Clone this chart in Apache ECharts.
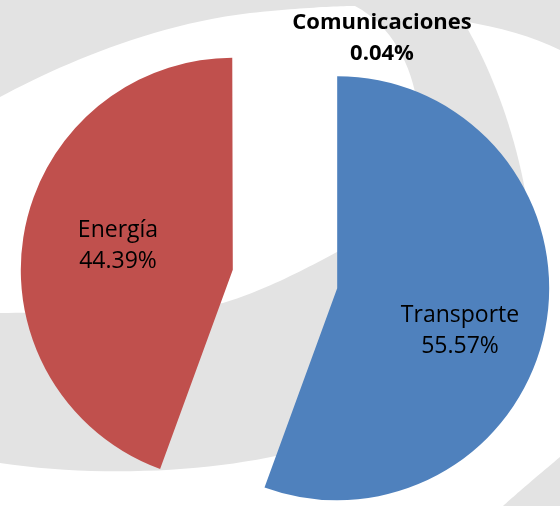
<!DOCTYPE html>
<html>
<head>
<meta charset="utf-8">
<script src="https://cdn.jsdelivr.net/npm/echarts@6/dist/echarts.min.js"></script>
<style>
  html, body { margin: 0; padding: 0; background: #fff; }
  #chart { width: 560px; height: 506px; }
</style>
</head>
<body>
<div id="chart"></div>
<script>
// 数据
var categories = ['Transporte', 'Energía', 'Comunicaciones'];
var shares = [55.57, 44.39, 0.04];
var colors = ['#4f81bd', '#c0504d', '#9bbb59'];

// 标签中心位置（像素）
var labelPos = [[460, 331], [118, 246], [382, 38]];

// 背景水印：把三次贝塞尔曲线采样成多边形
function pathPoints(start, segs) {
    var pts = [start];
    var p0 = start;
    segs.forEach(function (s) {
        if (s.length === 1) {
            pts.push(s[0]);
            p0 = s[0];
            return;
        }
        var p1 = s[0], p2 = s[1], p3 = s[2];
        for (var i = 1; i <= 24; i++) {
            var t = i / 24, u = 1 - t;
            pts.push([
                u * u * u * p0[0] + 3 * u * u * t * p1[0] + 3 * u * t * t * p2[0] + t * t * t * p3[0],
                u * u * u * p0[1] + 3 * u * u * t * p1[1] + 3 * u * t * t * p2[1] + t * t * t * p3[1]
            ]);
        }
        p0 = p3;
    });
    return pts;
}

var bigWhite = pathPoints([0, 97], [
    [[60, 65], [150, 25], [250, 13]],
    [[330, 5], [480, 10], [560, 50]],
    [[560, 457]],
    [[535, 478], [515, 495], [503, 506]],
    [[0, 506]]
]);
var grayRing = pathPoints([0, 463], [
    [[100, 478], [220, 472], [300, 450]],
    [[430, 410], [545, 310], [525, 190]],
    [[510, 110], [480, 45], [450, 0]],
    [[0, 0]]
]);
var innerWhite = pathPoints([0, 97], [
    [[60, 65], [150, 25], [250, 13]],
    [[300, 8], [335, 6], [355, 6]],
    [[410, 35], [428, 110], [415, 165]],
    [[405, 215], [370, 235], [337, 252]],
    [[300, 272], [260, 292], [223, 303]],
    [[150, 315], [60, 312], [0, 313]]
]);

// 数据标签（类别 + 百分比）
var labelElements = categories.map(function (name, i) {
    var small = i === 2;
    return {
        type: 'text',
        silent: true,
        z: 100,
        style: {
            text: name + '\n' + shares[i].toFixed(2) + '%',
            x: labelPos[i][0],
            y: labelPos[i][1],
            fill: '#000',
            font: (small ? 'bold 22px' : '23px') + ' "Open Sans"',
            lineHeight: 31,
            align: 'center',
            verticalAlign: 'middle'
        }
    };
});

var myChart = echarts.init(document.getElementById('chart'));

var option = {
    animation: false,
    backgroundColor: '#e3e3e3',
    graphic: {
        elements: [
            { type: 'polygon', silent: true, z: -10, shape: { points: bigWhite }, style: { fill: '#ffffff' } },
            { type: 'polygon', silent: true, z: -9, shape: { points: grayRing }, style: { fill: '#e3e3e3' } },
            { type: 'polygon', silent: true, z: -8, shape: { points: innerWhite }, style: { fill: '#ffffff' } }
        ].concat(labelElements)
    },
    series: [
        {
            type: 'pie',
            z: 2,
            center: [285, 279],
            radius: 212,
            startAngle: 90,
            clockwise: true,
            selectedMode: 'multiple',
            selectedOffset: 53,
            minShowLabelAngle: 0,
            emphasis: { disabled: true },
            itemStyle: { borderWidth: 0 },
            label: { show: false },
            labelLine: { show: false },
            data: categories.map(function (name, i) {
                var item = {
                    name: name,
                    value: shares[i],
                    selected: true,
                    itemStyle: { color: colors[i] }
                };
                if (i === 2) {
                    // 扇区太窄，原图中看不见
                    item.itemStyle.opacity = 0;
                }
                return item;
            })
        }
    ]
};

myChart.setOption(option);
</script>
</body>
</html>
